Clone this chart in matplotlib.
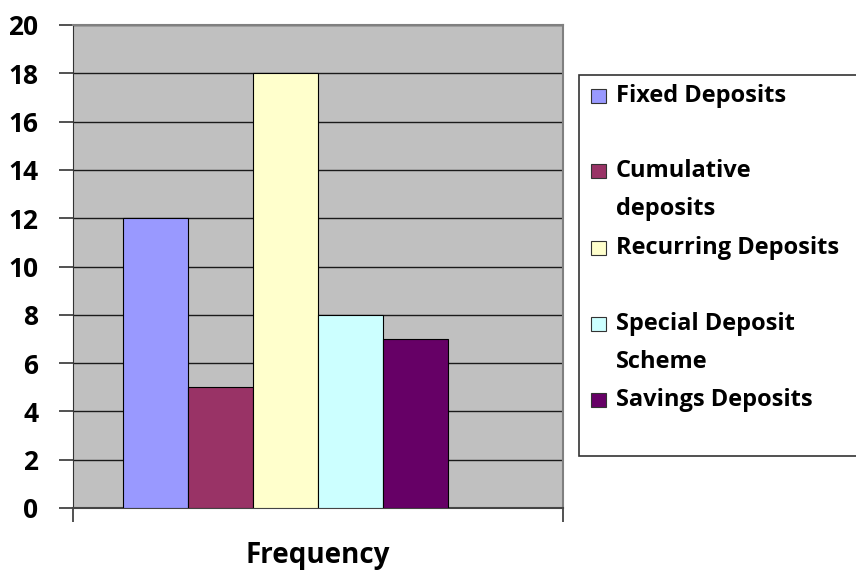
import matplotlib.pyplot as plt
from matplotlib.patches import Rectangle

# data
categories = ["Fixed Deposits", "Cumulative deposits", "Recurring Deposits",
              "Special Deposit Scheme", "Savings Deposits"]
legend_lines = [["Fixed Deposits"], ["Cumulative", "deposits"], ["Recurring Deposits"],
                ["Special Deposit", "Scheme"], ["Savings Deposits"]]
values = [12, 5, 18, 8, 7]
colors = ["#9999FF", "#993366", "#FFFFCC", "#CCFFFF", "#660066"]
y_ticks = list(range(0, 21, 2))
x_label = "Frequency"

plt.rcParams["font.family"] = ["Open Sans", "DejaVu Sans"]
plt.rcParams["font.weight"] = "bold"

W, H = 856, 573
fig = plt.figure(figsize=(W / 100, H / 100), dpi=100)
ax = fig.add_axes([73 / W, 1 - 508 / H, (563 - 73) / W, (508 - 25) / H])
ax.set_facecolor("#C0C0C0")

# bars sit left of centre in the original, one unit = one bar width
positions = list(range(len(values)))
ax.bar(positions, values, width=1.0, color=colors, edgecolor="#000000",
       linewidth=0.8, zorder=3)
ax.set_xlim(-0.5 - 50 / 65, len(values) - 0.5 + 115 / 65)
ax.set_ylim(0, 20)

ax.set_yticks(y_ticks)
ax.set_yticklabels([str(t) for t in y_ticks], fontsize=19, fontweight="bold")
ax.tick_params(axis="y", length=10, width=1.2, color="#333333", pad=15)
ax.set_xticks(ax.get_xlim())
ax.set_xticklabels(["", ""])
ax.tick_params(axis="x", length=10, width=1.2, color="#333333")
ax.grid(axis="y", color="#1a1a1a", linewidth=1.0, zorder=1)

for side in ["top", "right"]:
    ax.spines[side].set_color("#808080")
    ax.spines[side].set_linewidth(1.5)
ax.spines["left"].set_color("#333333")
ax.spines["bottom"].set_color("#444444")
ax.spines["bottom"].set_linewidth(1.5)

ax.set_xlabel(x_label, fontsize=20, fontweight="bold", labelpad=10)

# legend drawn by hand so markers line up with the first text line
fig.add_artist(Rectangle((579 / W, 1 - 456 / H), (W + 5 - 579) / W, (456 - 75) / H,
                         transform=fig.transFigure, facecolor="white",
                         edgecolor="#333333", linewidth=1.2, clip_on=False))
entry_y = [96, 171, 248, 324, 400]
line_gap = 38
for lines, c, y in zip(legend_lines, colors, entry_y):
    fig.add_artist(Rectangle((591 / W, 1 - (y + 7) / H), 15 / W, 14 / H,
                             transform=fig.transFigure, facecolor=c,
                             edgecolor="#333333", linewidth=0.8))
    for k, line in enumerate(lines):
        fig.text(616 / W, 1 - (y + k * line_gap) / H, line, fontsize=17,
                 fontweight="bold", va="center", ha="left")

fig.savefig("out.png", dpi=100)
